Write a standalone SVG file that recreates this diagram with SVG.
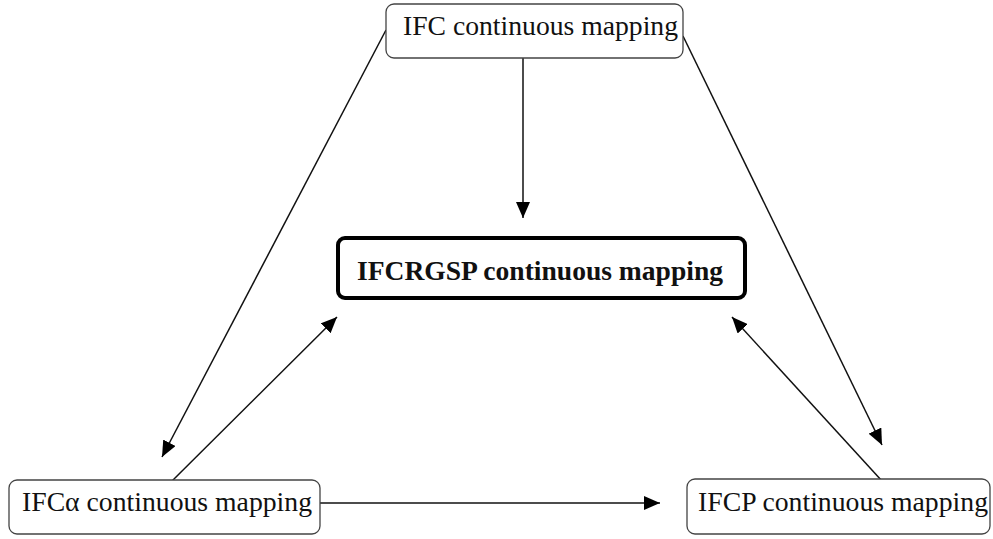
<svg xmlns="http://www.w3.org/2000/svg" width="993" height="539" viewBox="0 0 993 539">
<style>
.node rect{fill:#fff;stroke:#444;stroke-width:1.3}
.node.main rect{stroke:#000;stroke-width:4}
text{font-family:"Liberation Serif","Times New Roman",serif;font-size:27px;fill:#111}
.main text{font-weight:bold}
.conn line{stroke:#111;stroke-width:1.5;marker-end:url(#ah)}
</style>
<defs>
<marker id="ah" markerUnits="userSpaceOnUse" markerWidth="16" markerHeight="14" viewBox="0 0 16 14" refX="16" refY="7" orient="auto">
<path d="M0,0 L16,7 L0,14 Z" fill="#000"/>
</marker>
</defs>
<rect width="993" height="539" fill="#fff"/>
<g id="connectors" class="conn">
<line x1="386" y1="30" x2="162" y2="457"/>
<line x1="172" y1="481" x2="337" y2="317"/>
<line x1="523" y1="58" x2="523" y2="218"/>
<line x1="683" y1="36" x2="882" y2="445"/>
<line x1="882" y1="481" x2="732" y2="317"/>
<line x1="320" y1="503" x2="660" y2="503"/>
</g>
<g id="ifc" class="node">
<rect x="386" y="4" width="297" height="54" rx="8"/>
<text x="403" y="35" textLength="275" lengthAdjust="spacingAndGlyphs">IFC continuous mapping</text>
</g>
<g id="ifcrgsp" class="node main">
<rect x="338" y="238" width="407" height="60" rx="7"/>
<text x="357" y="280" textLength="366" lengthAdjust="spacingAndGlyphs">IFCRGSP continuous mapping</text>
</g>
<g id="ifcalpha" class="node">
<rect x="9" y="480" width="311" height="54" rx="8"/>
<text x="22" y="511" textLength="290" lengthAdjust="spacingAndGlyphs">IFCα continuous mapping</text>
</g>
<g id="ifcp" class="node">
<rect x="687" y="479" width="303" height="55" rx="8"/>
<text x="698" y="511" textLength="290" lengthAdjust="spacingAndGlyphs">IFCP continuous mapping</text>
</g>
</svg>
